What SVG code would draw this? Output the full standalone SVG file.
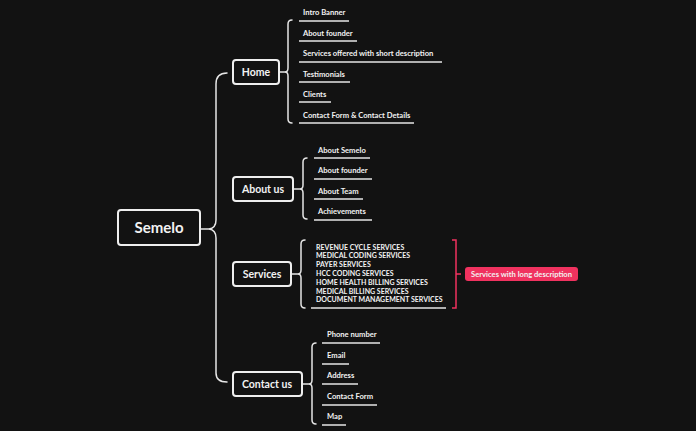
<svg xmlns="http://www.w3.org/2000/svg" width="696" height="431" viewBox="0 0 696 431">
<style>
.bg{fill:#121212}
.box{fill:#121212;stroke:#eeeeee;stroke-width:2}
.t{font-family:Lato,"Open Sans",sans-serif;fill:#f2f2f2;font-weight:bold}
.root{font-size:15px}
.br{font-size:10.5px}
.lf{font-size:7.6px}
.sv{font-size:7px}
.c{fill:none;stroke:#e6e6e6;stroke-width:1.5;stroke-linecap:round}
.u{stroke:#e6e6e6;stroke-width:1.5}
</style>
<rect class="bg" width="696" height="431"/>
<g id="connectors">
<path class="c" d="M227,73 Q216,73 216,84 L216,220 Q216,228 209,229 Q216,230 216,238 L216,373 Q216,382 227,382"/>
<line class="c" x1="200" y1="229" x2="209" y2="229"/>
<path class="c" d="M292,20 Q288,20 288,24 L288,68 Q288,72 285,72 Q288,72 288,76 L288,119 Q288,123 292,123"/>
<line class="c" x1="279" y1="72" x2="285" y2="72"/>
<path class="c" d="M307,158 Q303,158 303,162 L303,185 Q303,189 300,189 Q303,189 303,193 L303,215 Q303,219 307,219"/>
<line class="c" x1="293" y1="189" x2="300" y2="189"/>
<path class="c" d="M305,240 Q301,240 301,244 L301,270 Q301,274 298,274 Q301,274 301,278 L301,304 Q301,308 305,308"/>
<line class="c" x1="291" y1="274" x2="298" y2="274"/>
<path class="c" d="M316,343 Q312,343 312,347 L312,380 Q312,384 309,384 Q312,384 312,388 L312,420 Q312,424 316,424"/>
<line class="c" x1="302" y1="384" x2="309" y2="384"/>
<path d="M452,240 L456,240 L456,308 L452,308 M456,274 L461,274" fill="none" stroke="#f0325f" stroke-width="1.5"/>
<g class="u">
<line x1="299" y1="21" x2="349" y2="21"/><line x1="299" y1="41" x2="357" y2="41"/><line x1="299" y1="62" x2="442" y2="62"/><line x1="299" y1="82" x2="350" y2="82"/><line x1="299" y1="102" x2="331" y2="102"/><line x1="299" y1="123" x2="414" y2="123"/>
<line x1="314" y1="158" x2="370" y2="158"/><line x1="314" y1="179" x2="372" y2="179"/><line x1="314" y1="199" x2="363" y2="199"/><line x1="314" y1="220" x2="372" y2="220"/>
<line x1="311" y1="308" x2="446" y2="308"/>
<line x1="322" y1="343" x2="380" y2="343"/><line x1="322" y1="364" x2="349" y2="364"/><line x1="322" y1="384" x2="358" y2="384"/><line x1="322" y1="405" x2="377" y2="405"/><line x1="322" y1="425" x2="346" y2="425"/>
</g>
</g>
<g id="root"><rect class="box" x="118" y="210" width="82" height="35" rx="3"/><text class="t root" x="159" y="233" text-anchor="middle">Semelo</text></g>
<g id="home"><rect class="box" x="233" y="60" width="46" height="24" rx="3"/><text class="t br" x="256" y="76" text-anchor="middle">Home</text></g>
<g id="about"><rect class="box" x="233" y="177" width="60" height="24" rx="3"/><text class="t br" x="263" y="193" text-anchor="middle">About us</text></g>
<g id="services"><rect class="box" x="233" y="262" width="58" height="24" rx="3"/><text class="t br" x="262" y="278" text-anchor="middle">Services</text></g>
<g id="contact"><rect class="box" x="233" y="372" width="69" height="24" rx="3"/><text class="t br" x="267" y="388" text-anchor="middle">Contact us</text></g>
<g id="home-leaves" class="t lf">
<text x="303" y="15">Intro Banner</text><text x="303" y="36">About founder</text><text x="303" y="56">Services offered with short description</text><text x="303" y="77">Testimonials</text><text x="303" y="97">Clients</text><text x="303" y="118">Contact Form &amp; Contact Details</text>
</g>
<g id="about-leaves" class="t lf">
<text x="318" y="153">About Semelo</text><text x="318" y="173">About founder</text><text x="318" y="194">About Team</text><text x="318" y="214">Achievements</text>
</g>
<g id="services-leaf" class="t sv">
<text x="316" y="249.5">REVENUE CYCLE SERVICES</text><text x="316" y="258.3">MEDICAL CODING SERVICES</text><text x="316" y="267.1">PAYER SERVICES</text><text x="316" y="275.9">HCC CODING SERVICES</text><text x="316" y="284.7">HOME HEALTH BILLING SERVICES</text><text x="316" y="293.5">MEDICAL BILLING SERVICES</text><text x="316" y="302.3">DOCUMENT MANAGEMENT SERVICES</text>
</g>
<g id="services-note"><rect x="465" y="267" width="113" height="14" rx="3" fill="#f0325f"/><text class="t lf" x="521.5" y="277" text-anchor="middle" fill="#fff">Services with long description</text></g>
<g id="contact-leaves" class="t lf">
<text x="327" y="337">Phone number</text><text x="327" y="358">Email</text><text x="327" y="378">Address</text><text x="327" y="399">Contact Form</text><text x="327" y="419">Map</text>
</g>
</svg>
